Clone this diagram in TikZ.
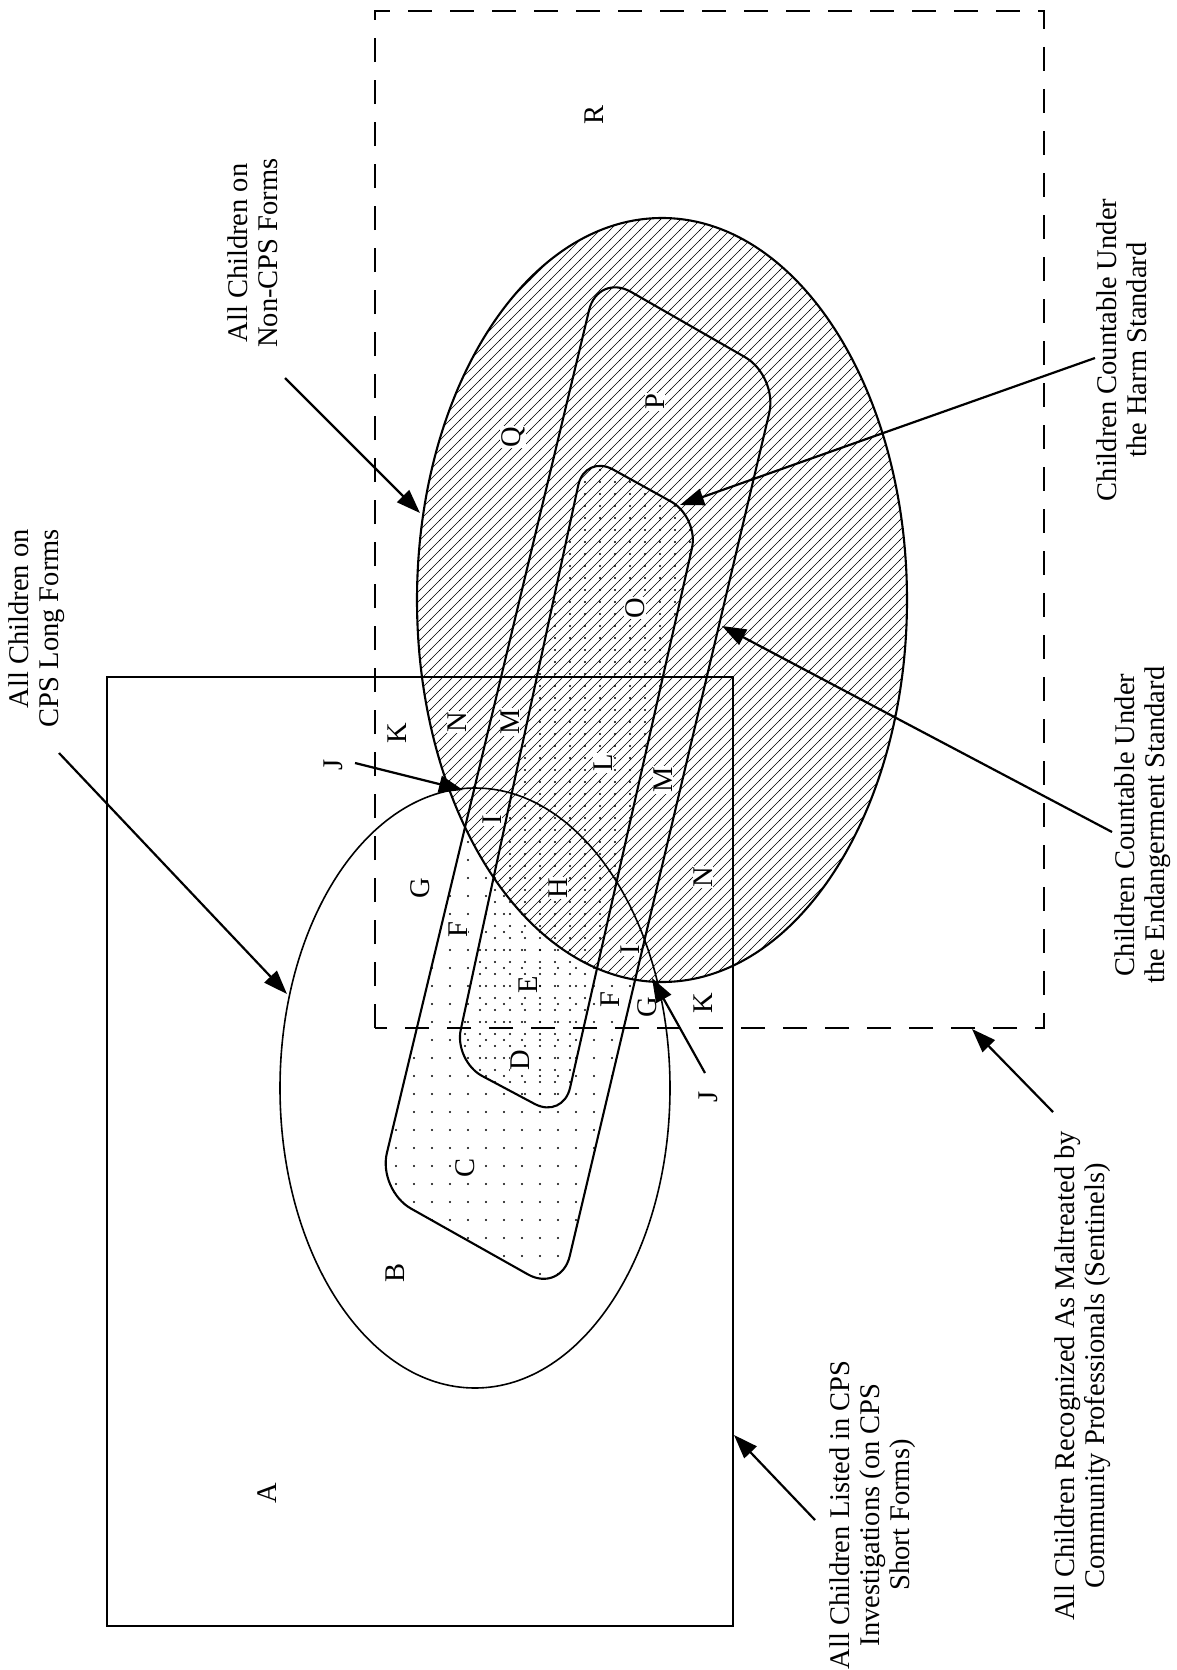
\documentclass[tikz,border=0pt]{standalone}
\usepackage{fontspec}
\setmainfont{Liberation Serif}
\usetikzlibrary{patterns,arrows.meta}
\pgfdeclarepatternformonly{hatchne}{\pgfqpoint{-1pt}{-1pt}}{\pgfqpoint{11pt}{11pt}}{\pgfqpoint{10pt}{10pt}}{%
  \pgfsetlinewidth{0.6pt}%
  \pgfpathmoveto{\pgfqpoint{-1pt}{-1pt}}%
  \pgfpathlineto{\pgfqpoint{11pt}{11pt}}%
  \pgfusepath{stroke}}
\pgfdeclarepatternformonly{sparsedots}{\pgfqpoint{-2pt}{-2pt}}{\pgfqpoint{2pt}{2pt}}{\pgfqpoint{18pt}{18pt}}{%
  \pgfpathcircle{\pgfqpoint{0pt}{0pt}}{1.1pt}\pgfusepath{fill}}
\pgfdeclarepatternformonly{densedots}{\pgfqpoint{-2pt}{-2pt}}{\pgfqpoint{2pt}{2pt}}{\pgfqpoint{15pt}{12pt}}{%
  \pgfpathcircle{\pgfqpoint{0pt}{0pt}}{1.1pt}\pgfusepath{fill}}
\begin{document}
\begin{tikzpicture}[x=1pt,y=-1pt,
  txt/.style={rotate=90,font=\fontsize{28.5}{30}\selectfont,inner sep=0pt},
  letter/.style={rotate=90,font=\fontsize{28.5}{30}\selectfont,fill=white,inner sep=1pt},
  shapeline/.style={line width=2.1pt,line join=round},
  thinline/.style={line width=1.6pt},
  dashline/.style={line width=2pt,dash pattern=on 24pt off 18pt},
  pointer/.style={line width=2.2pt,-{Triangle[length=24pt,width=17pt]}}]
\useasboundingbox (0,0) rectangle (1177,1670);
\fill[white] (0,0) rectangle (1177,1670);

% fills
\fill[pattern=sparsedots,rounded corners=38pt] (598,273) -- (778,376) -- (561,1293) -- (378,1190) -- cycle;
\fill[white] (662,600) ellipse [x radius=245, y radius=382];
\fill[pattern=hatchne] (662,600) ellipse [x radius=245, y radius=382];
\fill[pattern=densedots,rounded corners=32pt] (585,454) -- (699,517) -- (563,1119) -- (454,1061) -- cycle;

% region letters
\node[letter] (lA) at (267,1493) {A};
\node[letter] (lB) at (395,1273) {B};
\node[letter] (lC) at (465,1168) {C};
\node[letter] (lD) at (520,1060) {D};
\node[letter] (lE) at (528,985) {E};
\node[letter] (lF1) at (458,930) {F};
\node[letter] (lF2) at (610,1000) {F};
\node[letter] (lG1) at (420,888) {G};
\node[letter] (lG2) at (647,1007) {G};
\node[letter] (lH) at (558,888) {H};
\node[letter] (lI1) at (492,820) {I};
\node[letter] (lI2) at (630,950) {I};
\node[letter] (lJ1) at (333,765) {J};
\node[letter] (lJ2) at (708,1097) {J};
\node[letter] (lK1) at (397,733) {K};
\node[letter] (lK2) at (703,1003) {K};
\node[letter] (lL) at (603,763) {L};
\node[letter] (lM1) at (510,722) {M};
\node[letter] (lM2) at (663,780) {M};
\node[letter] (lN1) at (457,722) {N};
\node[letter] (lN2) at (703,877) {N};
\node[letter] (lO) at (635,608) {O};
\node[letter] (lP) at (655,402) {P};
\node[letter] (lQ) at (513,437) {Q};
\node[letter] (lR) at (594,115) {R};

% outlines
\draw[shapeline] (662,600) ellipse [x radius=245, y radius=382];
\draw[shapeline,rounded corners=38pt] (598,273) -- (778,376) -- (561,1293) -- (378,1190) -- cycle;
\draw[shapeline,rounded corners=32pt] (585,454) -- (699,517) -- (563,1119) -- (454,1061) -- cycle;
\draw[thinline] (475,1088) ellipse [x radius=195, y radius=300];
\draw[thinline] (107,677) rectangle (733,1626);
\draw[dashline] (375,1028) -- (375,11) -- (1044,11) -- (1044,1028) -- cycle;

% labels
\node[txt,align=center] (nonCPS) at (253,253) {All Children on\\Non-CPS Forms};
\node[txt,align=right,anchor=east] (cpsLong) at (37,529) {All Children on\\CPS Long Forms};
\node[txt,align=center] (harmLab) at (1122,350) {Children Countable Under\\the Harm Standard};
\node[txt,align=center] (endLab) at (1143,825) {Children Countable Under\\the Endangerment Standard};
\node[txt,align=center] (sentLab) at (1083,1376) {All Children Recognized As Maltreated by\\Community Professionals (Sentinels)};
\node[txt,align=center] (shortLab) at (873,1515) {All Children Listed in CPS\\Investigations (on CPS\\Short Forms)};

% arrow ends
\coordinate (nonT) at (285,378);   \coordinate (nonH) at (420,513);
\coordinate (longT) at (59,753);   \coordinate (longH) at (287,994);
\coordinate (harmT) at (1095,358); \coordinate (harmH) at (680,505);
\coordinate (endT) at (1112,832);  \coordinate (endH) at (722,626);
\coordinate (sentT) at (1053,1112); \coordinate (sentH) at (972,1029);
\coordinate (shortT) at (815,1520); \coordinate (shortH) at (734,1435);
\coordinate (jaT) at (355,763);    \coordinate (jaH) at (463,790);
\coordinate (jbT) at (705,1073);   \coordinate (jbH) at (652,978);

\draw[pointer] (nonT) -- (nonH);
\draw[pointer] (longT) -- (longH);
\draw[pointer] (harmT) -- (harmH);
\draw[pointer] (endT) -- (endH);
\draw[pointer] (sentT) -- (sentH);
\draw[pointer] (shortT) -- (shortH);
\draw[pointer] (jaT) -- (jaH);
\draw[pointer] (jbT) -- (jbH);
\end{tikzpicture}
\end{document}
